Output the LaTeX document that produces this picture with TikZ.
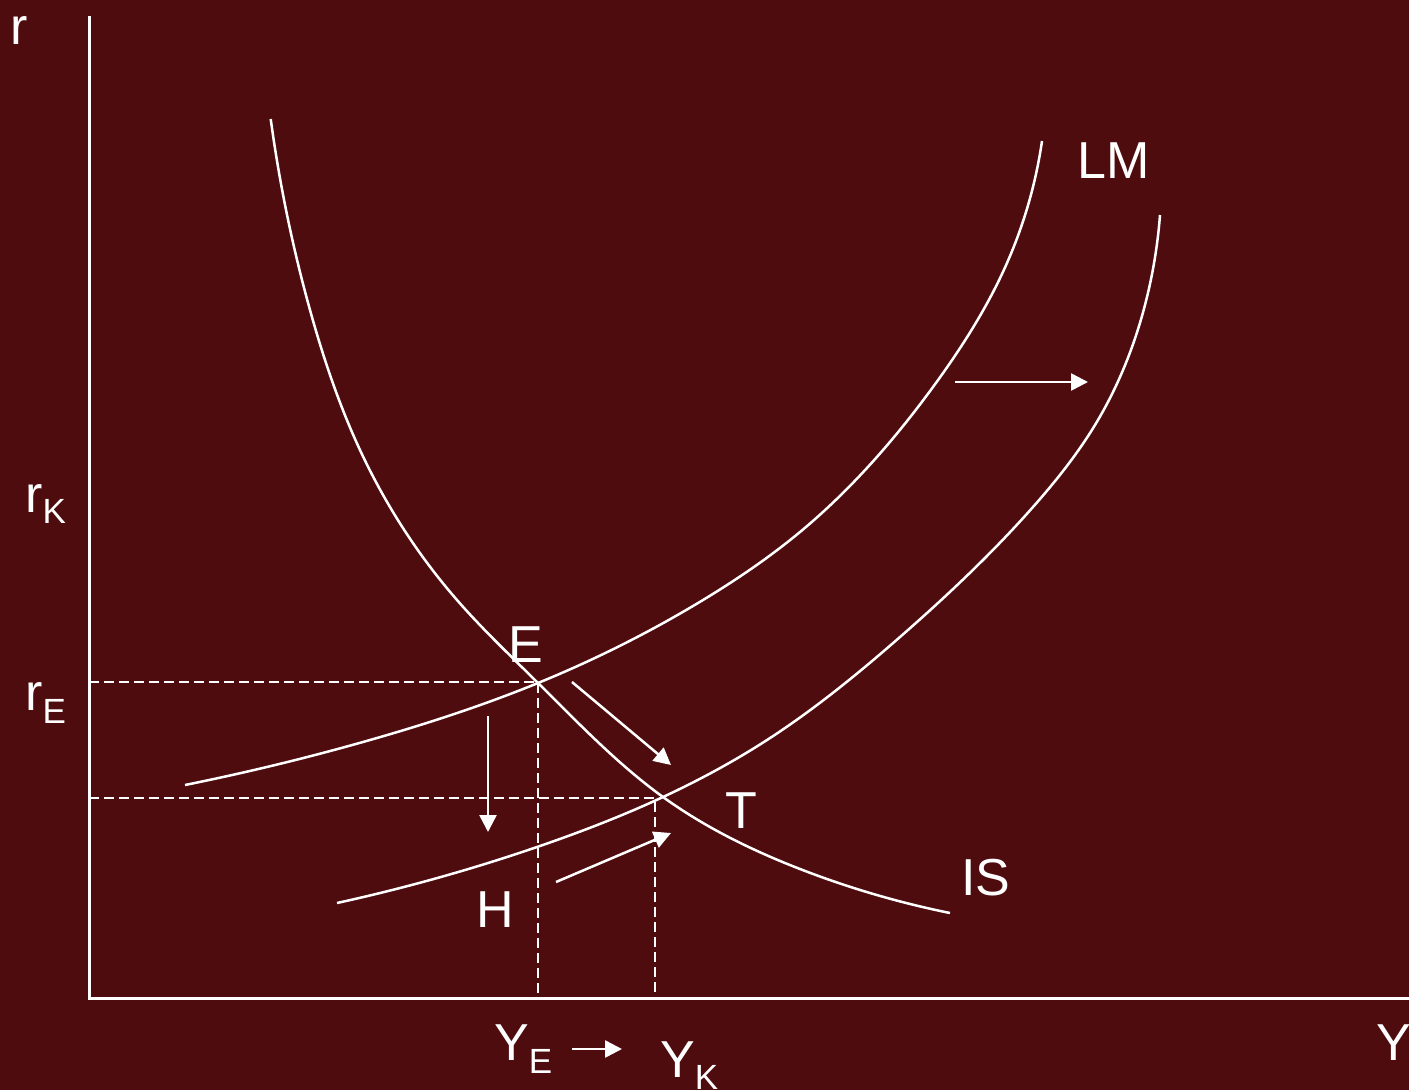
\documentclass[tikz,border=0pt]{standalone}
\usepackage{fontspec}
\setmainfont{Liberation Sans}
\usetikzlibrary{arrows.meta,hobby}
\definecolor{bg}{RGB}{78,12,14}
\newcommand{\lowidx}[2]{\raisebox{-#1}{\fontsize{35}{35}\selectfont #2}}
\begin{document}
\begin{tikzpicture}[x=1pt,y=-1pt,
  curve/.style={white, line width=2.5pt, use Hobby shortcut},
  axis/.style={white, line width=3pt},
  guide/.style={white, line width=2.5pt, dash pattern=on 10pt off 5pt},
  move/.style={white, line width=2.5pt, -{Triangle[length=17pt,width=17pt]}},
  lab/.style={white, inner sep=0pt, anchor=base west, font=\fontsize{52}{52}\selectfont},
]
\fill[bg] (0,0) rectangle (1409,1090);
\useasboundingbox (0,0) rectangle (1409,1090);

% axes
\coordinate (ytop) at (89,16);
\coordinate (O) at (89,998);
\coordinate (xend) at (1409,998);
\draw[axis] (ytop) -- (O) -- (xend);

% equilibrium points
\coordinate (E) at (538,683);
\coordinate (T) at (663,797);
\coordinate (rE) at (89,682);
\coordinate (Ec) at (538,682);
\coordinate (rT) at (89,798);
\coordinate (Tc) at (655,798);
\coordinate (YEb) at (538,998);
\coordinate (YKb) at (655,998);

% guides
\draw[guide] (rE) -- (Ec) -- (YEb);
\draw[guide] (rT) -- (Tc) -- (YKb);

% IS
\draw[curve] (270.7,119) .. (310,310) .. (360,450) .. (457,600) .. (E) .. (T) .. (800,869) .. (950,913);
% LM
\draw[curve] (185,785) .. (370,740) .. (E) .. (703,600) .. (800,532) .. (933,387) .. (1007,263) .. (1042,141);
% LM shifted
\draw[curve] (337,903) .. (537,847) .. (T) .. (767,740) .. (900,637) .. (1033,507) .. (1095,425) .. (1147,297) .. (1160,215);

% movement arrows
\coordinate (a1s) at (572,682); \coordinate (a1e) at (671,765);
\coordinate (a2s) at (488,716); \coordinate (a2e) at (488,832);
\coordinate (a3s) at (556,882); \coordinate (a3e) at (671,833);
\coordinate (a4s) at (955,382); \coordinate (a4e) at (1088,382);
\coordinate (a5s) at (572,1049); \coordinate (a5e) at (622,1049);
\draw[move] (a1s) -- (a1e);
\draw[move] (a2s) -- (a2e);
\draw[move] (a3s) -- (a3e);
\draw[move] (a4s) -- (a4e);
\draw[move] (a5s) -- (a5e);

% labels
\node[lab] (lr) at (10,44) {r};
\node[lab] (lrK) at (25,512) {r\lowidx{11pt}{K}};
\node[lab] (lrE) at (25,710) {r\lowidx{13pt}{E}};
\node[lab] (lE) at (508,662) {E};
\node[lab] (lT) at (725,828) {T};
\node[lab] (lIS) at (961,895) {IS};
\node[lab] (lH) at (476,927) {H};
\node[lab] (lLM) at (1077,178) {LM};
\node[lab] (lYE) at (494,1060) {Y\lowidx{13pt}{E}};
\node[lab] (lYK) at (660,1077) {Y\lowidx{12pt}{K}};
\node[lab] (lY) at (1376,1060) {Y};
\end{tikzpicture}
\end{document}
